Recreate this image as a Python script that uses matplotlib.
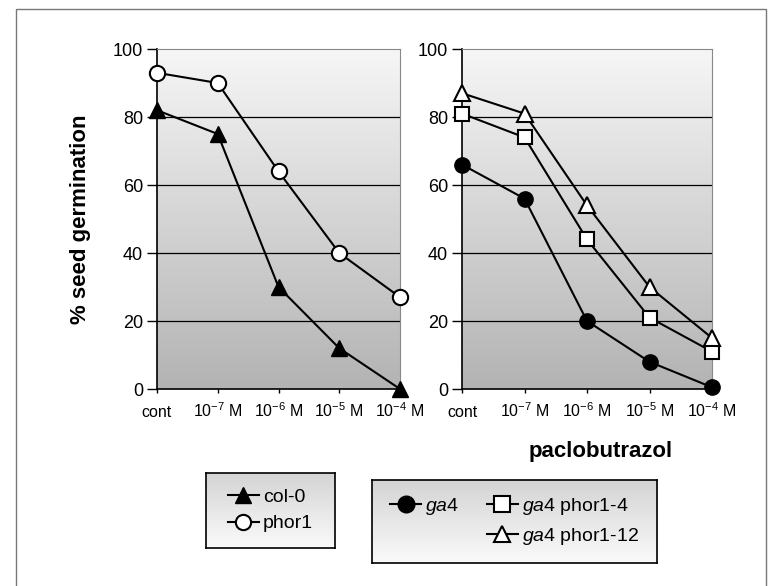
import numpy as np
import matplotlib
matplotlib.use("Agg")
import matplotlib.pyplot as plt
from matplotlib.lines import Line2D
from matplotlib.patches import Rectangle
from matplotlib.colors import LinearSegmentedColormap

plt.rcParams['font.family'] = ['Liberation Sans', 'DejaVu Sans']
plt.rcParams['mathtext.fontset'] = 'custom'
plt.rcParams['mathtext.rm'] = 'Liberation Sans'
plt.rcParams['mathtext.it'] = 'Liberation Sans:italic'

#data
doses = ["cont", r"10$^{-7}$ M", r"10$^{-6}$ M", r"10$^{-5}$ M", r"10$^{-4}$ M"]
col0 = [82, 75, 30, 12, 0]
phor1 = [93, 90, 64, 40, 27]
ga4 = [66, 56, 20, 8, 0.5]
ga4_phor1_4 = [81, 74, 44, 21, 11]
ga4_phor1_12 = [87, 81, 54, 30, 15]

W, H = 771, 586
fig = plt.figure(figsize=(W / 100, H / 100), dpi=100)

grad_cmap = LinearSegmentedColormap.from_list("g", ["#f6f6f6", "#b3b3b3"])
leg_cmap = LinearSegmentedColormap.from_list("lg", ["#d4d4d4", "#fafafa"])
grad = np.linspace(0, 1, 256).reshape(-1, 1)

def px_box(x0, y0, x1, y1):
    return [x0 / W, 1 - y1 / H, (x1 - x0) / W, (y1 - y0) / H]

def setup_axes(ax):
    ax.imshow(grad, aspect="auto", cmap=grad_cmap, extent=[0, 4, 0, 100],
              origin="upper", zorder=0)
    ax.set_xlim(0, 4)
    ax.set_ylim(0, 100)
    ax.set_yticks([0, 20, 40, 60, 80, 100])
    ax.set_xticks(range(5))
    ax.set_xticklabels(doses, fontsize=11.5)
    for lbl in ax.get_xticklabels():
        lbl.set_va("baseline")
    ax.tick_params(axis="y", direction="out", length=7, width=1, labelsize=13, pad=3)
    ax.tick_params(axis="x", direction="out", length=3, width=1, pad=17)
    for y in [20, 40, 60, 80]:
        ax.axhline(y, color="black", lw=0.9, zorder=1)
    ax.spines["left"].set_linewidth(1.2)
    ax.spines["bottom"].set_linewidth(1.2)
    ax.spines["top"].set_color("#888888")
    ax.spines["right"].set_color("#888888")

line_kw = dict(color="black", lw=1.5, clip_on=False, zorder=3)

ax1 = fig.add_axes(px_box(157, 49, 400, 389))
setup_axes(ax1)
x = np.arange(len(doses))
ax1.plot(x, col0, marker="^", ms=11, mfc="black", mec="black", **line_kw)
ax1.plot(x, phor1, marker="o", ms=11, mfc="white", mec="black", mew=1.5, **line_kw)
ax1.set_ylabel("% seed germination", fontsize=16, fontweight="bold", labelpad=16)

ax2 = fig.add_axes(px_box(462, 49, 712, 389))
setup_axes(ax2)
ax2.plot(x, ga4, marker="o", ms=11, mfc="black", mec="black", **line_kw)
ax2.plot(x, ga4_phor1_4, marker="s", ms=10, mfc="white", mec="black", mew=1.5, **line_kw)
ax2.plot(x, ga4_phor1_12, marker="^", ms=12, mfc="white", mec="black", mew=1.5, **line_kw)

fig.text(673 / W, 1 - 451 / H, "paclobutrazol", fontsize=16, fontweight="bold",
         ha="right", va="center")

#legend boxes
def legend_box(box, handles, labels, ncol):
    lax = fig.add_axes(px_box(*box))
    lax.imshow(grad, aspect="auto", cmap=leg_cmap, extent=[0, 1, 0, 1], origin="upper")
    lax.set_xticks([])
    lax.set_yticks([])
    for s in lax.spines.values():
        s.set_linewidth(1.2)
    leg = lax.legend(handles, labels, loc="center", ncol=ncol, frameon=False,
                     fontsize=14, handlelength=1.6, handletextpad=0.2,
                     columnspacing=1.4, labelspacing=0.45)
    return leg

h_col0 = Line2D([], [], color="black", lw=1.5, marker="^", ms=12, mfc="black")
h_phor1 = Line2D([], [], color="black", lw=1.5, marker="o", ms=11, mfc="white", mew=1.5)
legend_box((206, 473, 335, 548), [h_col0, h_phor1], ["col-0", "phor1"], 1)

h_ga4 = Line2D([], [], color="black", lw=1.5, marker="o", ms=12, mfc="black")
h_blank = Line2D([], [], color="none")
h_p4 = Line2D([], [], color="black", lw=1.5, marker="s", ms=11, mfc="white", mew=1.5)
h_p12 = Line2D([], [], color="black", lw=1.5, marker="^", ms=12, mfc="white", mew=1.5)
legend_box((372, 480, 657, 563), [h_ga4, h_blank, h_p4, h_p12],
           [r"$\it{ga4}$", "", r"$\it{ga4}$ phor1-4", r"$\it{ga4}$ phor1-12"], 2)

#outer frame
fig.patches.append(Rectangle((16 / W, -0.01), 750 / W, 1 - 9 / H + 0.01,
                             transform=fig.transFigure, fill=False,
                             edgecolor="#777777", lw=1))

fig.savefig("out.png", dpi=100)
